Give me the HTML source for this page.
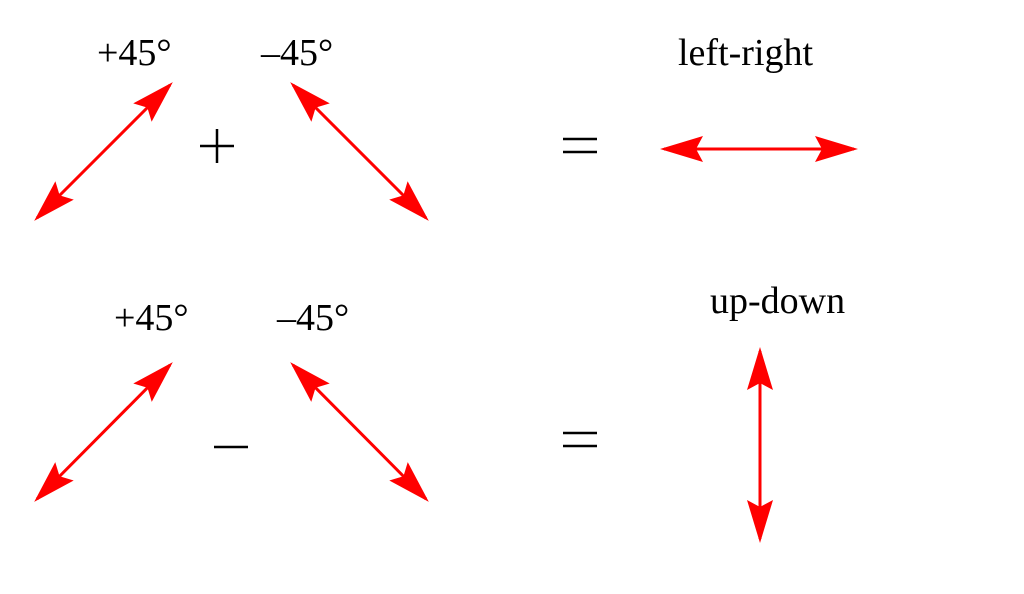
<!DOCTYPE html>
<html><head><meta charset="utf-8"><style>
html,body{margin:0;padding:0;background:#fff;}
svg{display:block;}
text{font-family:"Liberation Serif",serif;fill:#000;}
</style></head><body>
<svg width="1024" height="594" viewBox="0 0 1024 594" xmlns="http://www.w3.org/2000/svg">
<defs>
<marker id="a" markerUnits="userSpaceOnUse" viewBox="-44 -15 50 30" refX="-4" refY="0" markerWidth="50" markerHeight="30" orient="auto-start-reverse">
<path d="M0,0 L-43,-13 L-36,0 L-43,13 Z" fill="#ff0000"/>
</marker>
</defs>
<g stroke="#ff0000" stroke-width="3" fill="none">
<line x1="37" y1="218" x2="170" y2="85" marker-start="url(#a)" marker-end="url(#a)"/>
<line x1="293" y1="85" x2="426" y2="218" marker-start="url(#a)" marker-end="url(#a)"/>
<line x1="37" y1="499" x2="170" y2="365" marker-start="url(#a)" marker-end="url(#a)"/>
<line x1="293" y1="365" x2="426" y2="499" marker-start="url(#a)" marker-end="url(#a)"/>
<line x1="664" y1="149" x2="854" y2="149" marker-start="url(#a)" marker-end="url(#a)"/>
<line x1="760" y1="351" x2="760" y2="539" marker-start="url(#a)" marker-end="url(#a)"/>
</g>
<g font-size="38">
<text x="97" y="65">+45°</text>
<text x="261" y="65">–45°</text>
<text x="678" y="65">left-right</text>
<text x="114" y="330">+45°</text>
<text x="277" y="330">–45°</text>
<text x="710" y="313">up-down</text>
</g>
<g stroke="#000" stroke-width="2.5">
<line x1="200" y1="146" x2="234" y2="146"/>
<line x1="217" y1="129" x2="217" y2="163"/>
<line x1="563" y1="139" x2="597" y2="139"/>
<line x1="563" y1="152" x2="597" y2="152"/>
<line x1="214" y1="447" x2="248" y2="447"/>
<line x1="563" y1="433" x2="597" y2="433"/>
<line x1="563" y1="446" x2="597" y2="446"/>
</g>
</svg>
</body></html>
